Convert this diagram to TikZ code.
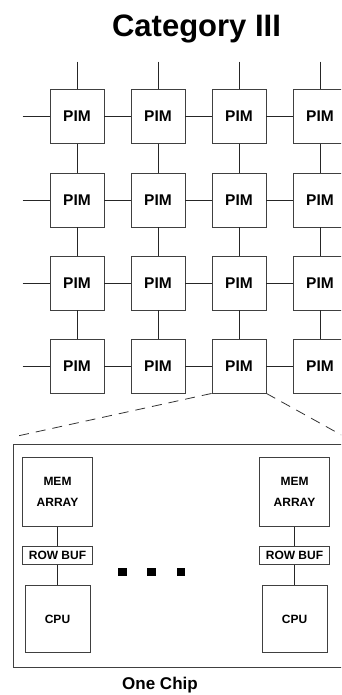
\documentclass[tikz,border=0pt]{standalone}
\usepackage{fontspec}
\setmainfont{Liberation Sans}
\usetikzlibrary{positioning}
\tikzset{
  pimbox/.style   = {draw=black!75,line width=0.9pt,minimum width=54pt,minimum height=54pt,
                     inner sep=0pt,font=\fontsize{15.5}{18}\selectfont\bfseries},
  smallbox/.style = {draw=black!75,line width=0.8pt,inner sep=0pt,align=center,
                     font=\fontsize{12}{21}\selectfont\bfseries},
  link/.style     = {black!85,line width=0.8pt},
  zoomline/.style = {black!80,line width=0.8pt,dash pattern=on 10pt off 7pt}
}
\newcommand{\cellunit}[2]{%
  \node[smallbox,minimum width=70pt,minimum height=69pt] (#2mem) at (#1,492) {MEM\\ARRAY};
  \node[smallbox,minimum width=70pt,minimum height=18pt] (#2buf) at (#1,555.5) {ROW BUF};
  \node[smallbox,minimum width=65pt,minimum height=67pt] (#2cpu) at (#1,619) {CPU};
  \draw[link] (#2mem) -- (#2buf);
  \draw[link] (#2buf) -- (#2cpu);
}

\begin{document}
\begin{tikzpicture}[x=1pt,y=-1pt]
  \useasboundingbox (0,0) rectangle (341,695);
  \clip (0,0) rectangle (341,695);
  \node[anchor=base,inner sep=0pt,font=\fontsize{31}{36}\selectfont\bfseries] (title) at (196.5,36.5) {Category III};
  \foreach \c/\x in {1/77,2/158,3/239,4/320}
    \foreach \r/\y in {1/116.5,2/200,3/283,4/366}
      \node[pimbox] (p\c\r) at (\x,\y) {PIM};
  \foreach \r in {1,...,4} {
    \coordinate (l\r) at ([xshift=-27pt]p1\r.west);
    \draw[link] (l\r) -- (p1\r);
    \foreach \c/\d in {1/2,2/3,3/4}
      \draw[link] (p\c\r) -- (p\d\r);
  }
  \foreach \c in {1,...,4} {
    \coordinate (t\c) at ([yshift=27.5pt]p\c1.north);
    \draw[link] (t\c) -- (p\c1);
    \foreach \r/\s in {1/2,2/3,3/4}
      \draw[link] (p\c\r) -- (p\c\s);
  }
  \coordinate (zl) at (13,437);
  \coordinate (zr) at (345,437);
  \draw[zoomline] (p34.south west) -- (zl);
  \draw[zoomline] (p34.south east) -- (zr);
  \node[draw=black!75,line width=0.9pt,minimum width=351pt,minimum height=223pt,inner sep=0pt] (chip) at (188.5,555.5) {};
  \cellunit{57.5}{a}
  \cellunit{294.5}{b}
  \foreach \x in {122.5,151.5,181}
    \fill (\x-4.2,568.3) rectangle ++(8.4,7.4);
  \node[anchor=base,inner sep=0pt,font=\fontsize{17}{20}\selectfont\bfseries] (chipname) at (160,689) {One Chip};
\end{tikzpicture}
\end{document}
